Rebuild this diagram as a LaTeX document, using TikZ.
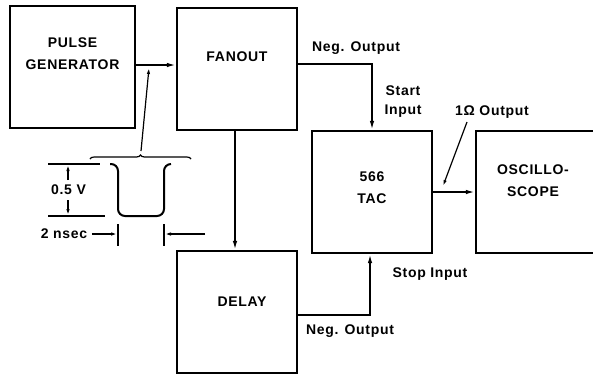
\documentclass[tikz,border=0pt]{standalone}
\usepackage{fontspec}
\setmainfont{Liberation Sans}
\newfontfamily\lblfont[LetterSpace=5]{Liberation Sans}
\usetikzlibrary{arrows.meta, decorations.pathreplacing}

\begin{document}
\begin{tikzpicture}[
    x=1pt, y=-1pt, line width=1.6pt, >={Latex[length=9pt, width=4.5pt]},
    blk/.style={draw, line width=2.2pt, minimum width=120pt, minimum height=122pt, inner sep=0pt},
    txt/.style={font=\lblfont\fontsize{14}{22}\selectfont\bfseries, align=center, inner sep=0pt},
    dimline/.style={line width=1.2pt},
    dimarrow/.style={line width=1.2pt, ->, >={Latex[length=6pt, width=3.5pt]}}
]
    \useasboundingbox (0,0) rectangle (593,376);

    % blocks
    \node[blk, minimum width=125pt] (pg) at (72.5,67) {};
    \node[blk] (fanout) at (237,69) {};
    \node[blk] (tac) at (372,192) {};
    \node[blk] (osc) at (536,192) {};
    \node[blk] (delay) at (237,312) {};

    \node[txt] (pgtext) at ([yshift=13pt]pg.center) {PULSE\\GENERATOR};
    \node[txt] (fanouttext) at ([yshift=12pt]fanout.center) {FANOUT};
    \node[txt] (tactext) at ([yshift=4.5pt]tac.center) {566\\TAC};
    \node[txt] (osctext) at ([xshift=-3pt, yshift=11pt]osc.center) {OSCILLO-\\SCOPE};
    \node[txt] (delaytext) at ([xshift=5pt, yshift=10pt]delay.center) {DELAY};

    % signal paths
    \draw[->] ([yshift=2pt]pg.east) -- ([yshift=2pt]pg.east -| fanout.west);
    \draw[->] ([yshift=5pt]fanout.east) -| (tac.north);
    \draw[->] ([xshift=-2pt]fanout.south) -- ([xshift=-2pt]fanout.south |- delay.north);
    \draw[->] ([yshift=-3pt]delay.east) -| ([xshift=-2pt]tac.south);
    \draw[->] (tac.east) -- (osc.west);

    \node[txt] (negtop) at (356,48) {Neg. Output};
    \node[txt, font=\lblfont\fontsize{14}{19}\selectfont\bfseries] (start) at (403,102) {Start\\Input};
    \node[txt] (ohm) at (492,112) {1Ω Output};
    \node[txt] (stop) at (430,274) {Stop Input};
    \node[txt] (negbot) at (350,331) {Neg. Output};

    \coordinate (ohmtail) at (467,122);
    \coordinate (ohmtip) at (443,186);
    \draw[dimarrow] (ohmtail) -- (ohmtip);

    % pulse shape
    \draw[line width=2pt, rounded corners=7pt]
        (110,164) -- (118,164) -- (118,216) -- (164,216) -- (164,164) -- (171,164);
    \draw[decorate, decoration={brace, amplitude=4pt}, line width=1.2pt] (90,159) -- (191,159);
    \coordinate (bracetip) at (141,151);
    \coordinate (probe) at (149,68);
    \draw[dimarrow] (bracetip) -- (probe);

    % amplitude
    \draw[dimline] (48,164) -- (100,164);
    \draw[dimline] (48,216) -- (105,216);
    \node[txt] (amp) at (68.5,190) {0.5 V};
    \coordinate (amptop) at (68,165);
    \coordinate (ampbot) at (68,215);
    \draw[dimarrow] (68,180) -- (amptop);
    \draw[dimarrow] (68,200) -- (ampbot);

    % width
    \node[txt] (width) at (64,234) {2 nsec};
    \coordinate (wleft) at (117,234);
    \coordinate (wright) at (165,234);
    \draw[dimline] (118,224) -- (118,246);
    \draw[dimline] (164,224) -- (164,246);
    \draw[dimarrow] ([xshift=4pt]width.east) -- (wleft);
    \draw[dimarrow] (205,234) -- (wright);
\end{tikzpicture}
\end{document}
